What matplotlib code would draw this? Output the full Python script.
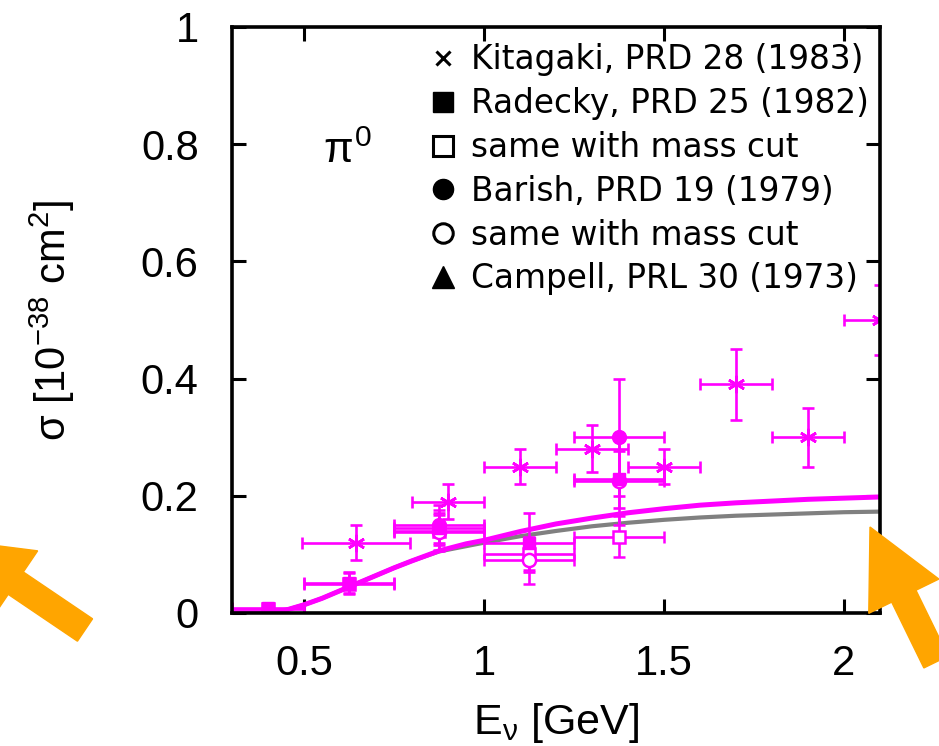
import matplotlib
matplotlib.use("Agg")
import matplotlib.pyplot as plt
from matplotlib.patches import FancyArrow
from matplotlib.transforms import IdentityTransform
from matplotlib.lines import Line2D

plt.rcParams['font.family'] = ['Liberation Sans', 'DejaVu Sans']
plt.rcParams['mathtext.fontset'] = 'custom'
plt.rcParams['mathtext.rm'] = 'Liberation Sans'
plt.rcParams['mathtext.it'] = 'Liberation Sans'
plt.rcParams['mathtext.bf'] = 'Liberation Sans:bold'

MAGENTA = '#ff00ff'
GRAY = '#808080'
ORANGE = '#ffa500'

# model curves
curve_e = [0.3, 0.4, 0.45, 0.5, 0.55, 0.6, 0.65, 0.7, 0.75, 0.8, 0.875, 0.95, 1.0,
           1.1, 1.2, 1.3, 1.4, 1.5, 1.6, 1.7, 1.8, 1.9, 2.0, 2.1]
curve_full = [0.0, 0.0, 0.005, 0.014, 0.025, 0.038, 0.051, 0.064, 0.077, 0.089, 0.106,
              0.118, 0.124, 0.139, 0.152, 0.162, 0.171, 0.178, 0.184, 0.188, 0.191,
              0.194, 0.196, 0.198]
curve_cut = [0.0, 0.0, 0.005, 0.014, 0.025, 0.038, 0.051, 0.064, 0.077, 0.089, 0.105,
             0.114, 0.120, 0.131, 0.140, 0.148, 0.154, 0.159, 0.163, 0.166, 0.168,
             0.170, 0.172, 0.173]

# Kitagaki, PRD 28 (1983)
kit_e = [0.645, 0.9, 1.1, 1.3, 1.5, 1.7, 1.9, 2.1]
kit_s = [0.12, 0.19, 0.25, 0.28, 0.25, 0.39, 0.30, 0.50]
kit_xerr = [0.15, 0.1, 0.1, 0.1, 0.1, 0.1, 0.1, 0.1]
kit_yerr = [0.03, 0.03, 0.03, 0.04, 0.03, 0.06, 0.05, 0.06]

# Radecky, PRD 25 (1982)
rad_e = [0.4, 0.625, 0.875, 1.125, 1.375]
rad_s = [0.008, 0.052, 0.145, 0.12, 0.228]
rad_xerr = [0.1, 0.125, 0.125, 0.125, 0.125]
rad_yerr = [0.005, 0.018, 0.025, 0.05, 0.048]

# Radecky, with mass cut
radc_e = [0.4, 0.625, 0.875, 1.125, 1.375]
radc_s = [0.006, 0.05, 0.14, 0.1, 0.13]
radc_xerr = [0.1, 0.125, 0.125, 0.125, 0.125]
radc_yerr = [0.005, 0.018, 0.035, 0.027, 0.035]

# Barish, PRD 19 (1979)
bar_e = [0.875, 1.375]
bar_s = [0.15, 0.30]
bar_xerr = [0.125, 0.125]
bar_yerr = [0.034, 0.10]

# Barish, with mass cut
barc_e = [0.875, 1.125, 1.375]
barc_s = [0.138, 0.09, 0.225]
barc_xerr = [0.125, 0.125, 0.125]
barc_yerr = [0.03, 0.04, 0.075]

legend_labels = ['Kitagaki, PRD 28 (1983)', 'Radecky, PRD 25 (1982)', 'same with mass cut',
                 'Barish, PRD 19 (1979)', 'same with mass cut', 'Campell, PRL 30 (1973)']

fig = plt.figure(figsize=(9.39, 7.46), dpi=100)
ax = fig.add_axes([232 / 939, 133 / 746, 648 / 939, 586 / 746])

ax.plot(curve_e, curve_cut, color=GRAY, lw=3.0, zorder=2)
ax.plot(curve_e, curve_full, color=MAGENTA, lw=3.6, zorder=3)

eb = dict(color=MAGENTA, ecolor=MAGENTA, elinewidth=1.9, capsize=4.5, capthick=1.9,
          linestyle='none', zorder=4)
ax.errorbar(kit_e, kit_s, xerr=kit_xerr, yerr=kit_yerr, marker=(6, 2, 0), ms=12.5, mew=1.9, **eb)
ax.errorbar(radc_e, radc_s, xerr=radc_xerr, yerr=radc_yerr, marker='s', ms=9,
            mfc='white', mec=MAGENTA, mew=1.8, **eb)
ax.errorbar(barc_e, barc_s, xerr=barc_xerr, yerr=barc_yerr, marker='o', ms=9.5,
            mfc='white', mec=MAGENTA, mew=1.8, **eb)
ax.errorbar(rad_e, rad_s, xerr=rad_xerr, yerr=rad_yerr, marker='s', ms=9, mec=MAGENTA, **eb)
ax.errorbar(bar_e, bar_s, xerr=bar_xerr, yerr=bar_yerr, marker='o', ms=10, mec=MAGENTA, **eb)

ax.text(0.553, 0.768, r'$\pi^0$', fontsize=31, ha='left', va='baseline')

handles = [
    Line2D([], [], color='black', marker='x', ms=10, mew=2.2, ls='none'),
    Line2D([], [], color='black', marker='s', ms=15, ls='none'),
    Line2D([], [], color='black', marker='s', ms=14, mfc='white', mew=2.2, ls='none'),
    Line2D([], [], color='black', marker='o', ms=14.5, ls='none'),
    Line2D([], [], color='black', marker='o', ms=14, mfc='white', mew=2.2, ls='none'),
    Line2D([], [], color='black', marker='^', ms=16, ls='none'),
]
ax.legend(handles, legend_labels, loc='upper left', bbox_to_anchor=(0.300, 0.972),
          frameon=False, borderpad=0, borderaxespad=0, handlelength=1.0,
          handletextpad=0.36, labelspacing=0.33,
          prop={'family': 'DejaVu Sans', 'size': 23.6})

ax.set_xlim(0.3, 2.1)
ax.set_ylim(0, 1)
ax.set_xticks([0.5, 1, 1.5, 2])
ax.set_xticklabels(['0.5', '1', '1.5', '2'])
ax.set_yticks([0, 0.2, 0.4, 0.6, 0.8, 1])
ax.set_yticklabels(['0', '0.2', '0.4', '0.6', '0.8', '1'])
ax.tick_params(direction='in', length=10, width=2.2, labelsize=30, top=True, right=True, pad=22)
ax.tick_params(axis='y', pad=24)
for sp in ax.spines.values():
    sp.set_linewidth(2.6)
    sp.set_zorder(5)

ax.set_xlabel(r'E$_{\nu}$ [GeV]', fontsize=31)
ax.set_ylabel(r'σ [10$^{-38}$ cm$^{2}$]', fontsize=30)
ax.xaxis.set_label_coords(0.5, -0.15)
ax.yaxis.set_label_coords(-0.239, 0.5)

# orange pointer arrows (pixel coordinates)
arrows = [((85, 630), (-48, 540)), ((936, 662), (870, 527))]
for (x0, y0), (x1, y1) in arrows:
    fig.add_artist(FancyArrow(x0, 746 - y0, x1 - x0, -(y1 - y0), width=27,
                              head_width=78, head_length=77, length_includes_head=True,
                              color=ORANGE, transform=IdentityTransform(), zorder=10))

fig.savefig('out.png', dpi=100)
